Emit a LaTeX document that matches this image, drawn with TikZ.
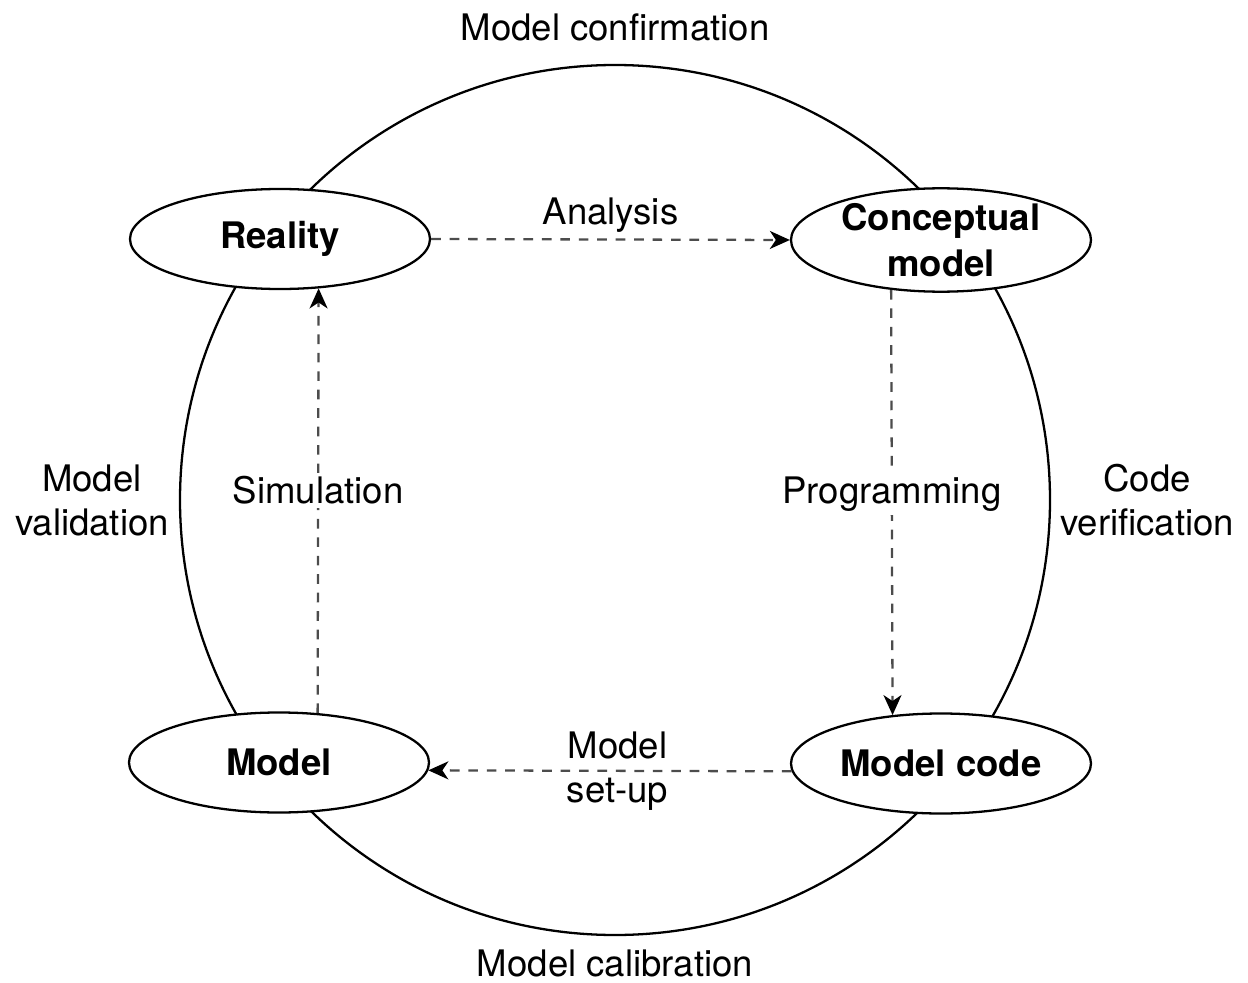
\documentclass[tikz,border=0pt]{standalone}
\usepackage{fontspec}
\setmainfont{TeX Gyre Heros}
\usetikzlibrary{arrows.meta}
\usetikzlibrary{shapes.geometric}
\usetikzlibrary{positioning}

\begin{document}
\begin{tikzpicture}[>= Stealth, font=\fontsize{20.8}{25}\selectfont]

\def\cx{12.3}
\def\cy{-10}
\def\radius{8.7}
\def\ewidth{6}
\def\eheight{2}

\tikzset{
  stage/.style={ellipse, draw, line width=1.3pt, fill=white, minimum width=\ewidth cm, minimum height=\eheight cm, inner sep=0pt, align=center, font=\fontsize{20.8}{26}\selectfont\bfseries},
  flow/.style={draw=black!70, line width=1.3pt, dash pattern=on 5.5pt off 5pt, -{Stealth[length=0.4cm, width=0.36cm, inset=0.12cm, color=black]}},
  tag/.style={align=center},
  ontag/.style={align=center, fill=white, inner sep=2pt}
}

\useasboundingbox (0,0) rectangle (24.96,-19.66);

% outer cycle
\draw[line width=1.3pt] (\cx,\cy) circle(\radius);
\coordinate (ctop) at (\cx,{\cy+\radius});
\coordinate (cbottom) at (\cx,{\cy-\radius});
\coordinate (cleft) at ({\cx-\radius},\cy);
\coordinate (cright) at ({\cx+\radius},\cy);

\node[tag, above=0.36cm of ctop] (confirm) {Model confirmation};
\node[tag, below=0.17cm of cbottom] (calib) {Model calibration};
\node[tag, left=0.1cm of cleft] (valid) {Model\\validation};
\node[tag, right=0.08cm of cright] (verif) {Code\\verification};

% the four stages
\node[stage] (reality) at (5.6,-4.78) {Reality};
\node[stage] (concept) at (18.82,-4.8) {Conceptual\\model};
\node[stage] (model) at (5.58,-15.25) {Model};
\node[stage] (mcode) at (18.82,-15.27) {Model code};

\draw[flow] (reality.east) -- (concept.west) node[midway, above]{Analysis};
\draw[flow] (concept.225) -- (mcode.135) node[ontag, pos=0.48] (prog) {Programming};
\draw[flow] (mcode.183) -- (model.-3) node[tag, midway, xshift=0.15cm] (setup) {Model\\set-up};
\draw[flow] (model.52) -- (reality.-52) node[ontag, pos=0.525] (sim) {Simulation};

\end{tikzpicture}
\end{document}
